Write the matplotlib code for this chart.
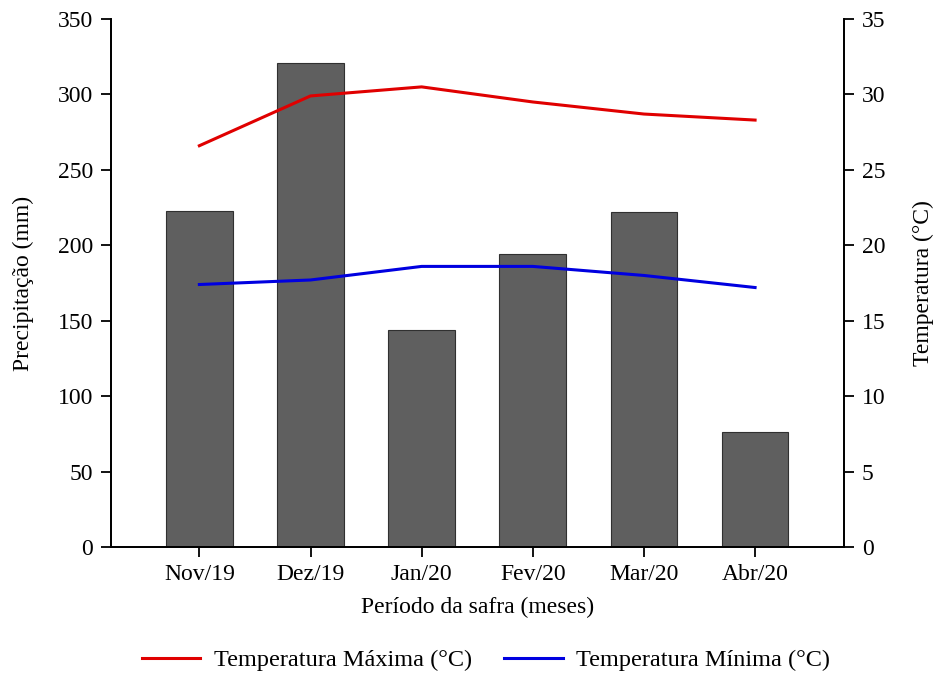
import matplotlib
matplotlib.use("Agg")
import matplotlib.pyplot as plt
import numpy as np
from matplotlib.lines import Line2D

plt.rcParams['font.family'] = ['Liberation Serif', 'DejaVu Serif']

meses = ["Nov/19", "Dez/19", "Jan/20", "Fev/20", "Mar/20", "Abr/20"]
precipitacao = [223, 321, 144, 194, 222, 76]
temp_max = [26.6, 29.9, 30.5, 29.5, 28.7, 28.3]
temp_min = [17.4, 17.7, 18.6, 18.6, 18.0, 17.2]

FS = 17

fig = plt.figure(figsize=(9.36, 6.75), dpi=100)
ax = fig.add_axes([111 / 936, 1 - 547 / 675, (844 - 111) / 936, (547 - 19) / 675])
x = np.arange(len(meses))

ax.bar(x, precipitacao, width=0.6, color="#5f5f5f", edgecolor="#303030", linewidth=0.8, zorder=1)
ax.set_xlim(-0.795, 5.8)
ax.set_ylim(0, 350)
ax.set_yticks(np.arange(0, 351, 50))
ax.set_xticks(x)
ax.set_xticklabels(meses)
ax.set_ylabel("Precipitação (mm)", fontsize=FS)
ax.set_xlabel("Período da safra (meses)", fontsize=FS)
ax.yaxis.set_label_coords(-0.105, 0.5)
ax.xaxis.set_label_coords(0.5, -0.095)

ax2 = ax.twinx()
ax2.plot(x, temp_max, color="#e00000", linewidth=2.2, zorder=3)
ax2.plot(x, temp_min, color="#0000e0", linewidth=2.2, zorder=3)
ax2.set_ylim(0, 35)
ax2.set_yticks(np.arange(0, 36, 5))
ax2.set_ylabel("Temperatura (°C)", fontsize=FS, rotation=90)
ax2.yaxis.set_label_coords(1.094, 0.5)

for a in (ax, ax2):
    a.spines['top'].set_visible(False)
    for s in a.spines.values():
        s.set_linewidth(1.3)
    a.tick_params(direction='out', length=7, width=1.3, labelsize=FS, pad=6)
ax.tick_params(axis='x', pad=5)

handles = [Line2D([], [], color="#e00000", linewidth=2.2),
           Line2D([], [], color="#0000e0", linewidth=2.2)]
fig.legend(handles, ["Temperatura Máxima (°C)", "Temperatura Mínima (°C)"],
           loc='center', bbox_to_anchor=(486 / 936, 1 - 660 / 675), ncol=2,
           frameon=False, fontsize=17.5, handlelength=2.4, columnspacing=1.35,
           handletextpad=0.55)

fig.savefig("out.png", dpi=100)
